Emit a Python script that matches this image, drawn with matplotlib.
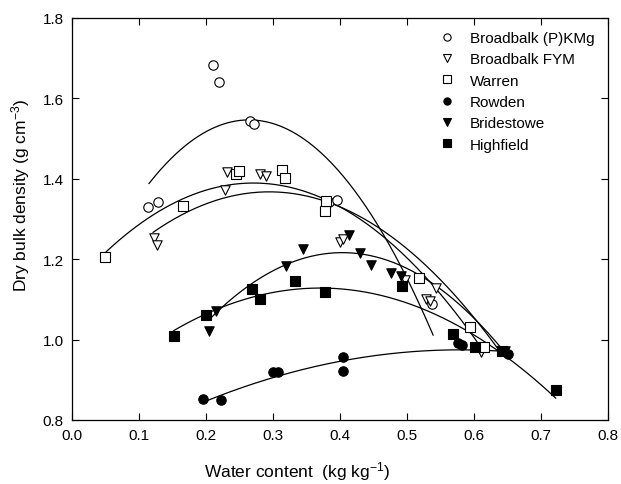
import numpy as np
import matplotlib
matplotlib.use("Agg")
import matplotlib.pyplot as plt
from matplotlib.lines import Line2D

plt.rcParams["font.family"] = ["Liberation Sans", "DejaVu Sans"]
plt.rcParams["mathtext.default"] = "regular"

# ---- measured points (water content, dry bulk density) ----
pkmg_x = [0.114, 0.128, 0.210, 0.219, 0.265, 0.271, 0.384, 0.395, 0.537]
pkmg_y = [1.331, 1.341, 1.684, 1.641, 1.544, 1.537, 1.343, 1.348, 1.088]

fym_x = [0.123, 0.127, 0.229, 0.232, 0.281, 0.290, 0.400, 0.405, 0.497, 0.529, 0.534, 0.543, 0.611]
fym_y = [1.252, 1.235, 1.373, 1.416, 1.412, 1.408, 1.242, 1.249, 1.148, 1.101, 1.097, 1.128, 0.970]

warren_x = [0.050, 0.165, 0.245, 0.249, 0.313, 0.318, 0.377, 0.379, 0.518, 0.594, 0.615]
warren_y = [1.205, 1.333, 1.413, 1.419, 1.423, 1.401, 1.320, 1.344, 1.154, 1.031, 0.982]

rowden_x = [0.196, 0.222, 0.300, 0.308, 0.405, 0.405, 0.576, 0.582, 0.651]
rowden_y = [0.852, 0.850, 0.919, 0.919, 0.957, 0.923, 0.991, 0.987, 0.963]

bride_x = [0.204, 0.215, 0.319, 0.345, 0.414, 0.430, 0.447, 0.476, 0.491, 0.646]
bride_y = [1.022, 1.072, 1.184, 1.226, 1.261, 1.215, 1.186, 1.166, 1.157, 0.972]

high_x = [0.153, 0.200, 0.269, 0.281, 0.333, 0.378, 0.492, 0.568, 0.602, 0.642, 0.722]
high_y = [1.010, 1.060, 1.126, 1.101, 1.145, 1.118, 1.133, 1.014, 0.982, 0.972, 0.875]

# ---- points along each fitted quadratic (used to recover its coefficients) ----
pkmg_fit_x = [0.115, 0.268, 0.410, 0.490, 0.539]
pkmg_fit_y = [1.389, 1.544, 1.399, 1.184, 1.011]

fym_fit_x = [0.121, 0.290, 0.445, 0.527, 0.641]
fym_fit_y = [1.263, 1.375, 1.300, 1.165, 0.974]

warren_fit_x = [0.048, 0.165, 0.280, 0.445, 0.593, 0.614]
warren_fit_y = [1.215, 1.345, 1.395, 1.277, 1.032, 0.964]

rowden_fit_x = [0.200, 0.400, 0.600, 0.651]
rowden_fit_y = [0.847, 0.946, 0.974, 0.970]

bride_fit_x = [0.206, 0.395, 0.543, 0.646]
bride_fit_y = [1.051, 1.219, 1.130, 0.970]

high_fit_x = [0.152, 0.370, 0.527, 0.722]
high_fit_y = [1.022, 1.130, 1.072, 0.855]

labels = ["Broadbalk (P)KMg", "Broadbalk FYM", "Warren", "Rowden", "Bridestowe", "Highfield"]
markers = ["o", "v", "s", "o", "v", "s"]
filled = [False, False, False, True, True, True]

points = [(pkmg_x, pkmg_y), (fym_x, fym_y), (warren_x, warren_y),
          (rowden_x, rowden_y), (bride_x, bride_y), (high_x, high_y)]
fits = [(pkmg_fit_x, pkmg_fit_y), (fym_fit_x, fym_fit_y), (warren_fit_x, warren_fit_y),
        (rowden_fit_x, rowden_fit_y), (bride_fit_x, bride_fit_y), (high_fit_x, high_fit_y)]

fig = plt.figure(figsize=(6.21, 4.85), dpi=100)
ax = fig.add_axes([0.1159, 0.132, 0.8631, 0.8289])

for (fx, fy) in fits:
    coef = np.polyfit(fx, fy, 2)
    xs = np.linspace(fx[0], fx[-1], 200)
    ax.plot(xs, np.polyval(coef, xs), color="black", lw=0.9, zorder=2)

for (px, py), m, f in zip(points, markers, filled):
    ax.scatter(px, py, marker=m, s=46, facecolors="black" if f else "white",
               edgecolors="black", linewidths=0.8, zorder=3)

handles = [Line2D([], [], linestyle="none", marker=m, markersize=5.2,
                  markerfacecolor="black" if f else "white",
                  markeredgecolor="black", markeredgewidth=0.8)
           for m, f in zip(markers, filled)]
ax.legend(handles, labels, loc="upper left", bbox_to_anchor=(0.665, 0.99),
          frameon=False, fontsize=11, handletextpad=0.9, labelspacing=0.48,
          handlelength=1.2, borderaxespad=0.2)

ax.set_xlim(0.0, 0.8)
ax.set_ylim(0.8, 1.8)
ax.set_xticks(np.arange(0.0, 0.81, 0.1))
ax.set_yticks(np.arange(0.8, 1.81, 0.2))
ax.xaxis.set_major_formatter(matplotlib.ticker.FormatStrFormatter("%.1f"))
ax.yaxis.set_major_formatter(matplotlib.ticker.FormatStrFormatter("%.1f"))
ax.tick_params(direction="in", top=True, right=True, length=5, width=0.8,
               labelsize=11, pad=6)
for sp in ax.spines.values():
    sp.set_linewidth(0.9)

ax.set_ylabel("Dry bulk density (g cm$^{-3}$)", fontsize=12.5)
ax.yaxis.set_label_coords(-0.075, 0.56)
fig.text(297 / 621, 1 - 477 / 485, "Water content  (kg kg$^{-1}$)", fontsize=12.5,
         ha="center", va="baseline")

fig.savefig("out.png", dpi=100)
